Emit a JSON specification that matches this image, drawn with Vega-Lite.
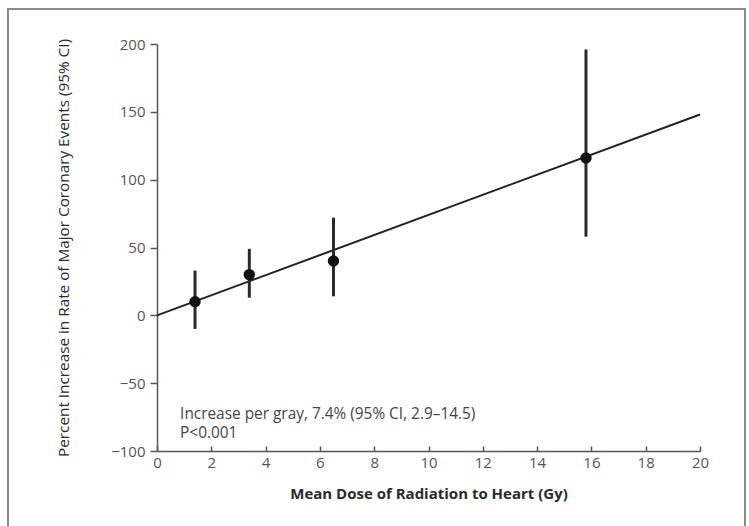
{
  "$schema": "https://vega.github.io/schema/vega-lite/v6.json",
  "width": 737,
  "height": 525,
  "autosize": {"type": "none"},
  "padding": {"left": 8, "top": 9, "right": 4, "bottom": 0},
  "background": "white",
  "config": {
    "view": {"stroke": "#8a8a8a", "strokeWidth": 2},
    "font": "Open Sans"
  },
  "datasets": {
    "pts": [
      {"dose": 1.4, "rate": 10, "lo": -10, "hi": 33},
      {"dose": 3.4, "rate": 30, "lo": 13, "hi": 49},
      {"dose": 6.5, "rate": 40, "lo": 14, "hi": 72},
      {"dose": 15.8, "rate": 116, "lo": 58, "hi": 196}
    ],
    "fit": [
      {"dose": 0, "rate": 0},
      {"dose": 20, "rate": 148}
    ],
    "notes": [
      {"dose": 0.85, "rate": -73, "label": "Increase per gray, 7.4% (95% CI, 2.9–14.5)"},
      {"dose": 0.85, "rate": -87, "label": "P<0.001"}
    ]
  },
  "encoding": {
    "x": {
      "field": "dose", "type": "quantitative",
      "scale": {"domain": [0, 20], "range": [149, 692], "nice": false, "zero": false},
      "axis": {
        "title": "Mean Dose of Radiation to Heart (Gy)",
        "values": [0, 2, 4, 6, 8, 10, 12, 14, 16, 18, 20],
        "offset": -83, "grid": false, "labelFlush": false,
        "domainColor": "#555", "domainWidth": 1.5,
        "tickColor": "#555", "tickWidth": 1.5, "tickSize": -5,
        "labelFontSize": 15, "labelColor": "#555", "labelPadding": 9,
        "titleFontSize": 15, "titleFontWeight": "bold", "titleColor": "#2a2a2a", "titlePadding": 16
      }
    },
    "y": {
      "field": "rate", "type": "quantitative",
      "scale": {"domain": [-100, 200], "range": [442, 35], "nice": false, "zero": false},
      "axis": {
        "title": "Percent Increase in Rate of Major Coronary Events (95% CI)",
        "values": [-100, -50, 0, 50, 100, 150, 200],
        "offset": -149, "grid": false, "labelFlush": false,
        "domainColor": "#555", "domainWidth": 1.5,
        "tickColor": "#555", "tickWidth": 1.5, "tickSize": 7,
        "labelFontSize": 15, "labelColor": "#555", "labelPadding": 5,
        "titleFontSize": 15.3, "titleFontWeight": "normal",
        "titleColor": "#2a2a2a", "titlePadding": 39
      }
    }
  },
  "layer": [
    {
      "data": {"name": "fit"},
      "mark": {"type": "line", "color": "#222", "strokeWidth": 2}
    },
    {
      "data": {"name": "pts"},
      "mark": {"type": "rule", "color": "#2a2a2a", "strokeWidth": 3},
      "encoding": {
        "y": {"field": "lo", "type": "quantitative"},
        "y2": {"field": "hi"}
      }
    },
    {
      "data": {"name": "pts"},
      "mark": {"type": "point", "filled": true, "color": "#111", "size": 130, "opacity": 1}
    },
    {
      "data": {"name": "notes"},
      "mark": {"type": "text", "align": "left", "baseline": "middle", "fontSize": 15.4, "color": "#444"},
      "encoding": {"text": {"field": "label"}}
    }
  ]
}
